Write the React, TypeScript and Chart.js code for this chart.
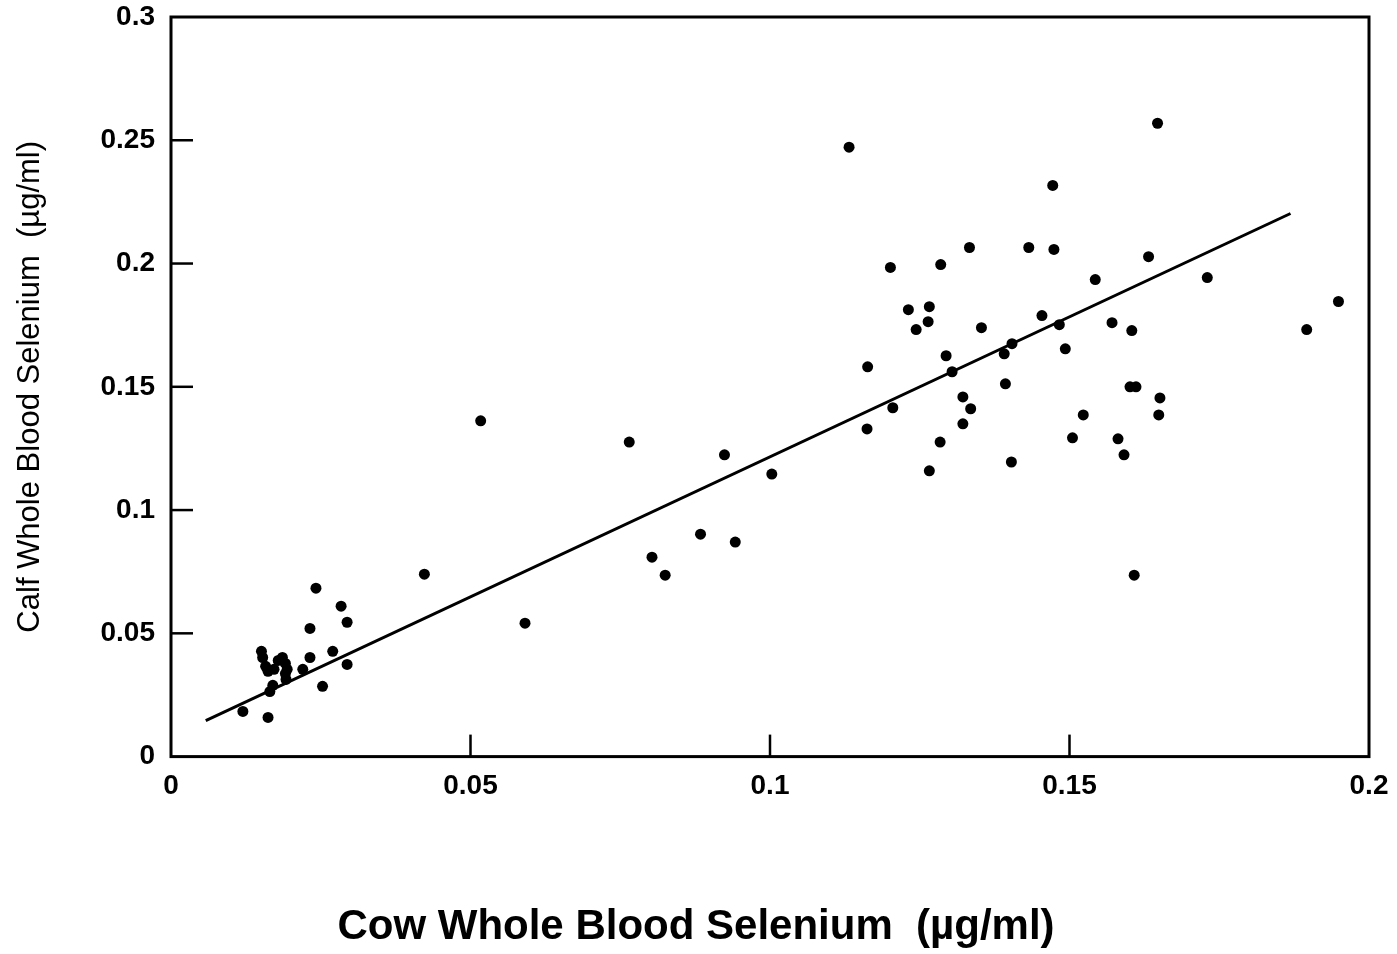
import React, { useEffect, useRef } from 'react';
import { Chart, registerables } from 'chart.js';

Chart.register(...registerables);

// Cow whole blood selenium (µg/ml)
const cowSe = [
  0.0120, 0.0162, 0.0151, 0.0153, 0.0158, 0.0162, 0.0172, 0.0165, 0.0170, 0.0179,
  0.0186, 0.0191, 0.0191, 0.0192, 0.0194, 0.0220, 0.0232, 0.0232, 0.0242, 0.0253,
  0.0270, 0.0284, 0.0294, 0.0294, 0.0423,
  0.0517, 0.0591, 0.0765, 0.0803, 0.0825, 0.0884, 0.0924, 0.0942, 0.1003,
  0.1132, 0.1647, 0.1472, 0.1201, 0.1285, 0.1333, 0.1432, 0.1474, 0.1632, 0.1543,
  0.1730, 0.1231, 0.1266, 0.1244, 0.1264, 0.1353, 0.1454, 0.1483, 0.1571, 0.1604,
  0.1294, 0.1163, 0.1391, 0.1404, 0.1304, 0.1205, 0.1493, 0.1393, 0.1322, 0.1335,
  0.1322, 0.1162, 0.1284, 0.1266, 0.1403, 0.1601, 0.1611, 0.1651, 0.1649, 0.1523,
  0.1505, 0.1581, 0.1591, 0.1608, 0.1949, 0.1896,
];

// Calf whole blood selenium (µg/ml)
const calfSe = [
  0.0183, 0.0159, 0.0427, 0.0402, 0.0366, 0.0346, 0.0354, 0.0264, 0.0289, 0.0390,
  0.0402, 0.0378, 0.0337, 0.0313, 0.0354, 0.0354, 0.0520, 0.0402, 0.0683, 0.0285,
  0.0427, 0.0610, 0.0545, 0.0374, 0.0740,
  0.1362, 0.0541, 0.1276, 0.0809, 0.0736, 0.0902, 0.1224, 0.0870, 0.1146,
  0.2472, 0.2569, 0.2317, 0.1984, 0.1996, 0.2065, 0.2065, 0.2057, 0.2028, 0.1935,
  0.1943, 0.1813, 0.1825, 0.1732, 0.1764, 0.1740, 0.1789, 0.1752, 0.1760, 0.1728,
  0.1626, 0.1581, 0.1634, 0.1675, 0.1561, 0.1415, 0.1654, 0.1512, 0.1459, 0.1411,
  0.1350, 0.1329, 0.1276, 0.1159, 0.1195, 0.1500, 0.1500, 0.1455, 0.1386, 0.1386,
  0.1293, 0.1289, 0.1224, 0.0736, 0.1846, 0.1732,
];

// Regression line end points
const fitX = [0.0058, 0.1869];
const fitY = [0.0146, 0.2203];

const xTickLabels = ['0', '0.05', '0.1', '0.15', '0.2'];
const yTickLabels = ['0', '0.05', '0.1', '0.15', '0.2', '0.25', '0.3'];

const xTitle = 'Cow Whole Blood Selenium  (\u00b5g/ml)';
const yTitle = 'Calf Whole Blood Selenium  (\u00b5g/ml)';

const FONT = "'Liberation Sans', Arial, Helvetica, sans-serif";

const framePlugin = {
  id: 'frameTicks',
  afterDatasetsDraw(chart: any) {
    const { ctx, chartArea, scales } = chart;
    const { left, right, top, bottom } = chartArea;
    const xs = scales.x;
    const ys = scales.y;
    ctx.save();
    ctx.strokeStyle = '#000';
    ctx.lineWidth = 3;
    ctx.strokeRect(left, top, right - left, bottom - top);
    ctx.lineWidth = 2.5;
    const tl = 22;
    xs.ticks.forEach((t: any) => {
      const px = xs.getPixelForValue(t.value);
      if (px > left + 2 && px < right - 2) {
        ctx.beginPath();
        ctx.moveTo(px, bottom);
        ctx.lineTo(px, bottom - tl);
        ctx.stroke();
      }
    });
    ys.ticks.forEach((t: any) => {
      const py = ys.getPixelForValue(t.value);
      if (py > top + 2 && py < bottom - 2) {
        ctx.beginPath();
        ctx.moveTo(left, py);
        ctx.lineTo(left + tl, py);
        ctx.stroke();
      }
    });
    ctx.restore();
  },
};

export default function App() {
  const canvasRef = useRef<HTMLCanvasElement | null>(null);

  useEffect(() => {
    if (!canvasRef.current) return;
    const points = cowSe.map((x, i) => ({ x, y: calfSe[i] }));
    const fit = fitX.map((x, i) => ({ x, y: fitY[i] }));
    const chart = new Chart(canvasRef.current, {
      type: 'scatter',
      data: {
        datasets: [
          {
            type: 'line',
            data: fit,
            borderColor: '#000',
            borderWidth: 3,
            pointRadius: 0,
            fill: false,
          } as any,
          {
            type: 'scatter',
            data: points,
            backgroundColor: '#000',
            borderWidth: 0,
            pointRadius: 5.5,
            pointHoverRadius: 5.5,
          },
        ],
      },
      options: {
        responsive: false,
        animation: false,
        devicePixelRatio: 1,
        layout: { padding: { top: 17, right: 28, left: 23, bottom: 1 } },
        plugins: {
          legend: { display: false },
          tooltip: { enabled: false },
          title: {
            display: true,
            position: 'bottom',
            text: xTitle,
            color: '#000',
            font: { family: FONT, size: 42, weight: 'bold', lineHeight: 1.2 },
            padding: { top: 0, bottom: 0 },
          },
        },
        scales: {
          x: {
            type: 'linear',
            min: 0,
            max: 0.2,
            afterFit: (s: any) => {
              s.height = 146;
              s.paddingLeft = 0;
              s.paddingRight = 0;
            },
            grid: { display: false },
            border: { display: false },
            title: { display: false },
            ticks: {
              stepSize: 0.05,
              color: '#000',
              padding: 5,
              maxRotation: 0,
              font: { family: FONT, size: 28, weight: 'bold' },
              callback: (_v: any, i: number) => xTickLabels[i],
            },
          },
          y: {
            type: 'linear',
            min: 0,
            max: 0.3,
            afterFit: (s: any) => {
              s.width = 148;
              s.paddingTop = 0;
              s.paddingBottom = 0;
            },
            grid: { display: false },
            border: { display: false },
            title: {
              display: true,
              text: yTitle,
              color: '#000',
              font: { family: FONT, size: 31, weight: 'normal', lineHeight: 1.2 },
              padding: { top: -11, bottom: 0 },
            },
            ticks: {
              stepSize: 0.05,
              color: '#000',
              padding: 8,
              font: { family: FONT, size: 28, weight: 'bold' },
              callback: (_v: any, i: number) => yTickLabels[i],
            },
          },
        },
      },
      plugins: [framePlugin],
    });
    return () => chart.destroy();
  }, []);

  return (
    <div style={{ position: 'absolute', left: 0, top: 0, width: 1397, height: 954, background: '#fff' }}>
      <canvas ref={canvasRef} width={1397} height={954} style={{ display: 'block' }} />
    </div>
  );
}
